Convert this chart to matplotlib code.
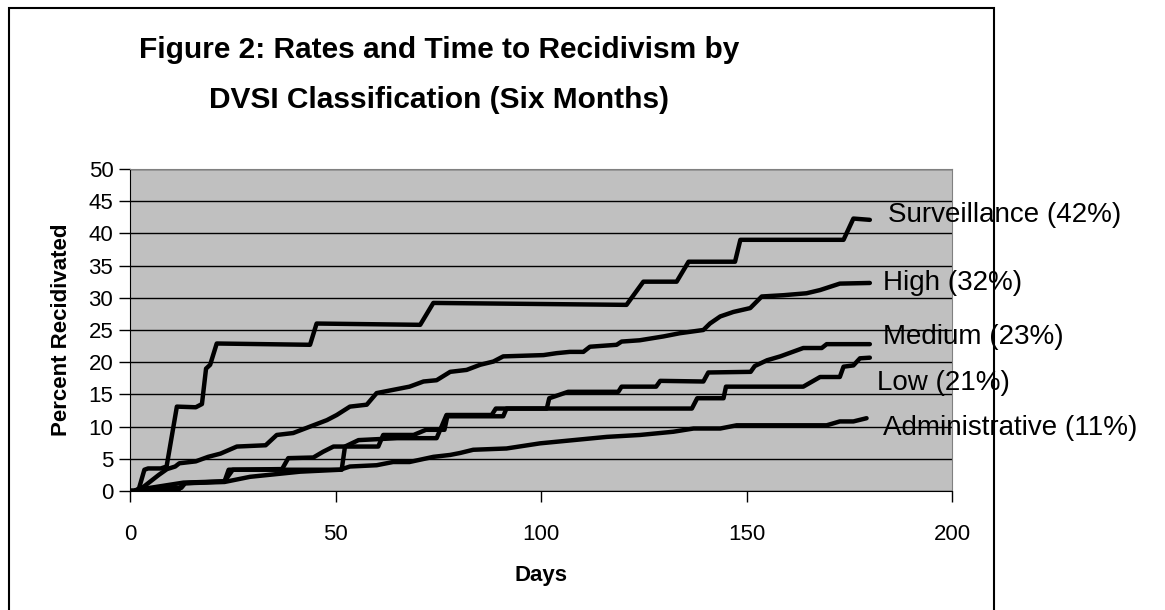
import matplotlib
matplotlib.use("Agg")
import matplotlib.pyplot as plt
from matplotlib.patches import Rectangle

plt.rcParams['font.family'] = ['Liberation Sans', 'DejaVu Sans']

# days / percent recidivated
surv_days = [0, 2, 3.5, 4.4, 7.5, 8.9, 11.4, 16, 17.5, 18.5, 19.5, 21.1, 43.8, 45.4, 70.6, 73.8,
             120.8, 124.9, 133.0, 135.9, 147.2, 148.5, 173.6, 176, 180]
surv_vals = [0, 0, 3.3, 3.5, 3.5, 3.8, 13.1, 13.0, 13.5, 19.0, 19.6, 22.9, 22.7, 26.0, 25.8, 29.2,
             28.9, 32.5, 32.5, 35.6, 35.6, 39.0, 39.0, 42.3, 42.1]

high_days = [0, 1, 3, 5, 7, 9, 11, 12, 16, 19, 22, 26, 33, 35.7, 39.7, 43.8, 47.9, 50.3, 53.5, 57.6,
             60, 64, 68, 71.4, 74.6, 77.9, 81.9, 85.2, 88.4, 90.8, 100.6, 103.8, 107, 110.3, 111.9,
             118.4, 119.6, 124, 129.8, 133.8, 139.5, 141.1, 143.6, 146.8, 150.9, 153.7, 159, 164.6,
             167.9, 170.3, 172.7, 180]
high_vals = [0, 0, 0.5, 1.5, 2.5, 3.4, 3.8, 4.3, 4.6, 5.3, 5.8, 6.9, 7.1, 8.7, 9.0, 10.0, 11.0, 11.8,
             13.1, 13.4, 15.2, 15.7, 16.2, 17.0, 17.2, 18.5, 18.8, 19.6, 20.1, 20.9, 21.1, 21.4, 21.6,
             21.6, 22.4, 22.7, 23.2, 23.4, 24.0, 24.5, 25.0, 26.0, 27.1, 27.8, 28.4, 30.2, 30.4, 30.7,
             31.2, 31.7, 32.2, 32.3]

med_days = [0, 1, 3, 13, 23, 24, 37, 38.5, 44.6, 47, 49.5, 52.3, 55.6, 65, 74.6, 77, 88, 89, 101.4,
            102, 106.6, 118.8, 119.6, 128, 129, 139.5, 140.7, 151, 152, 155, 158.2, 163.8, 168.3,
            169.5, 180]
med_vals = [0, 0, 0.3, 1.3, 1.5, 3.3, 3.4, 5.1, 5.2, 6.1, 6.9, 6.9, 7.9, 8.2, 8.2, 11.8, 11.8, 12.8,
            12.8, 14.4, 15.4, 15.4, 16.2, 16.2, 17.1, 17.0, 18.4, 18.5, 19.4, 20.3, 20.9, 22.2, 22.2,
            22.8, 22.8]

low_days = [0, 1, 12, 13, 23, 25, 51.5, 52.3, 60.4, 61.6, 69, 72, 76.5, 77.2, 90.8, 91.6, 136.7, 138,
            144.4, 145, 163.8, 167.9, 172.7, 173.6, 176, 177.6, 180]
low_vals = [0, 0, 0.3, 1.2, 1.5, 3.3, 3.3, 6.9, 6.9, 8.7, 8.7, 9.5, 9.5, 11.6, 11.6, 12.8, 12.8, 14.4,
            14.4, 16.2, 16.2, 17.7, 17.7, 19.3, 19.5, 20.6, 20.7]

adm_days = [0, 1, 2, 12.5, 13.4, 23, 29.2, 41.4, 51.1, 53.5, 60, 64, 68, 73.8, 77.9, 80.3, 83.5, 91.6,
            99.8, 107.9, 116, 124.1, 132.2, 137.1, 143.6, 147.6, 169.5, 172.7, 176, 179.2]
adm_vals = [0, 0, 0.3, 0.5, 1.2, 1.4, 2.2, 3.0, 3.3, 3.8, 4.0, 4.5, 4.5, 5.3, 5.6, 5.9, 6.4, 6.6, 7.4,
            7.9, 8.4, 8.7, 9.2, 9.7, 9.7, 10.2, 10.2, 10.8, 10.8, 11.3]

labels = ['Surveillance (42%)', 'High (32%)', 'Medium (23%)', 'Low (21%)', 'Administrative (11%)']
label_x = [184.4, 183.2, 183.2, 181.8, 183.2]
label_y = [42.9, 32.3, 23.9, 16.8, 9.8]

fig = plt.figure(figsize=(11.65, 6.10), dpi=100)
ax = fig.add_axes([0.1116, 0.1951, 0.7056, 0.5279])
ax.set_facecolor('#C0C0C0')

for d, v in [(surv_days, surv_vals), (high_days, high_vals), (med_days, med_vals),
             (low_days, low_vals), (adm_days, adm_vals)]:
    ax.plot(d, v, color='black', lw=3.2, solid_joinstyle='round', solid_capstyle='round', zorder=3)

for lab, x, y in zip(labels, label_x, label_y):
    ax.text(x, y, lab, fontsize=20, va='center', ha='left', clip_on=False, zorder=5)

ax.set_xlim(0, 200)
ax.set_ylim(0, 50)
ax.set_xticks([0, 50, 100, 150, 200])
ax.set_yticks(range(0, 51, 5))
ax.yaxis.grid(True, color='black', lw=1)
ax.set_axisbelow(True)
ax.tick_params(labelsize=16, length=8, width=1, color='black')
ax.tick_params(axis='x', pad=16)
ax.tick_params(axis='y', pad=4)
for s in ['top', 'right']:
    ax.spines[s].set_color('#808080')
ax.set_xlabel('Days', fontsize=16, fontweight='bold', labelpad=14)
ax.set_ylabel('Percent Recidivated', fontsize=16, fontweight='bold', labelpad=12)

fig.text(0.377, 0.877, 'Figure 2: Rates and Time to Recidivism by\nDVSI Classification (Six Months)',
         ha='center', va='center', fontsize=21.5, fontweight='bold', linespacing=2.0)

fig.patches.append(Rectangle((9 / 1165, -0.02), 985 / 1165, 1.007, transform=fig.transFigure,
                             fill=False, edgecolor='black', lw=1.5))

plt.savefig('out.png')
